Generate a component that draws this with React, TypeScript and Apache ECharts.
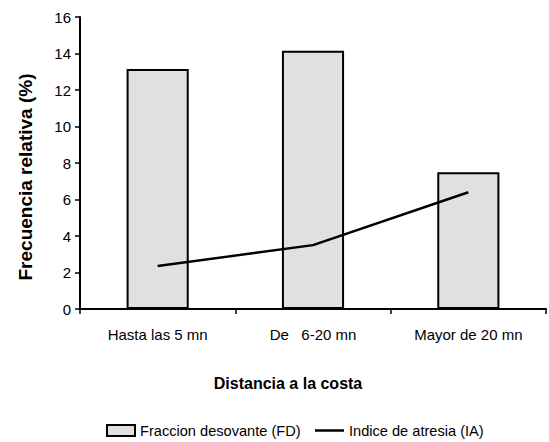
import React, { useEffect, useRef } from "react";
import * as echarts from "echarts";

const categories = ["Hasta las 5 mn", "De   6-20 mn", "Mayor de 20 mn"];
const fraccionDesovante = [13.15, 14.15, 7.5];
const indiceAtresia = [2.35, 3.5, 6.4];
const yTicks = { min: 0, max: 16, interval: 2 };

const FONT = "'Liberation Sans', Arial, sans-serif";

export default function App() {
  const ref = useRef<HTMLDivElement>(null);

  useEffect(() => {
    if (!ref.current) return;
    const chart = echarts.init(ref.current, undefined, { renderer: "svg" });
    const legendText = { fontFamily: FONT, fontSize: 14.6, color: "#000" };
    chart.setOption({
      animation: false,
      backgroundColor: "#ffffff",
      grid: { left: 80, right: 3, top: 17, bottom: 133 },
      legend: [
        {
          left: 106,
          top: 423,
          padding: 0,
          itemWidth: 28,
          itemHeight: 11,
          textStyle: legendText,
          data: [
            {
              name: "Fraccion desovante (FD)",
              icon: "rect",
              itemStyle: { color: "#e0e0e0", borderColor: "#000", borderWidth: 2 },
            },
          ],
        },
        {
          left: 315,
          top: 423,
          padding: 0,
          itemWidth: 29,
          itemHeight: 2.5,
          textStyle: legendText,
          data: [
            {
              name: "Indice de atresia (IA)",
              icon: "rect",
              itemStyle: { color: "#000", borderWidth: 0 },
            },
          ],
        },
      ],
      xAxis: {
        type: "category",
        data: categories,
        name: "Distancia a la costa",
        nameLocation: "middle",
        nameGap: 66,
        nameTextStyle: {
          fontFamily: FONT,
          fontSize: 16,
          fontWeight: "bold",
          color: "#000",
          padding: [0, 50, 0, 0],
        },
        axisLine: { lineStyle: { color: "#000", width: 2 } },
        axisTick: { show: true, length: 5, lineStyle: { color: "#000", width: 1.5 } },
        axisLabel: { fontFamily: FONT, fontSize: 15, color: "#000", margin: 18 },
      },
      yAxis: {
        type: "value",
        min: yTicks.min,
        max: yTicks.max,
        interval: yTicks.interval,
        name: "Frecuencia relativa (%)",
        nameLocation: "middle",
        nameGap: 45,
        nameTextStyle: {
          fontFamily: FONT,
          fontSize: 19,
          fontWeight: "bold",
          color: "#000",
          padding: [0, 28, 0, 0],
        },
        axisLine: { show: true, lineStyle: { color: "#000", width: 2 } },
        axisTick: { show: true, length: 5, lineStyle: { color: "#000", width: 1.5 } },
        axisLabel: { fontFamily: FONT, fontSize: 15, color: "#000", margin: 9 },
        splitLine: { show: false },
      },
      series: [
        {
          name: "Fraccion desovante (FD)",
          type: "bar",
          data: fraccionDesovante,
          barWidth: "40%",
          itemStyle: { color: "#e0e0e0", borderColor: "#000", borderWidth: 2 },
        },
        {
          name: "Indice de atresia (IA)",
          type: "line",
          data: indiceAtresia,
          symbol: "none",
          lineStyle: { color: "#000", width: 2.5 },
          itemStyle: { color: "#000" },
        },
      ],
    });
    return () => chart.dispose();
  }, []);

  return <div ref={ref} style={{ width: 549, height: 442, position: "absolute", left: 0, top: 0 }} />;
}
